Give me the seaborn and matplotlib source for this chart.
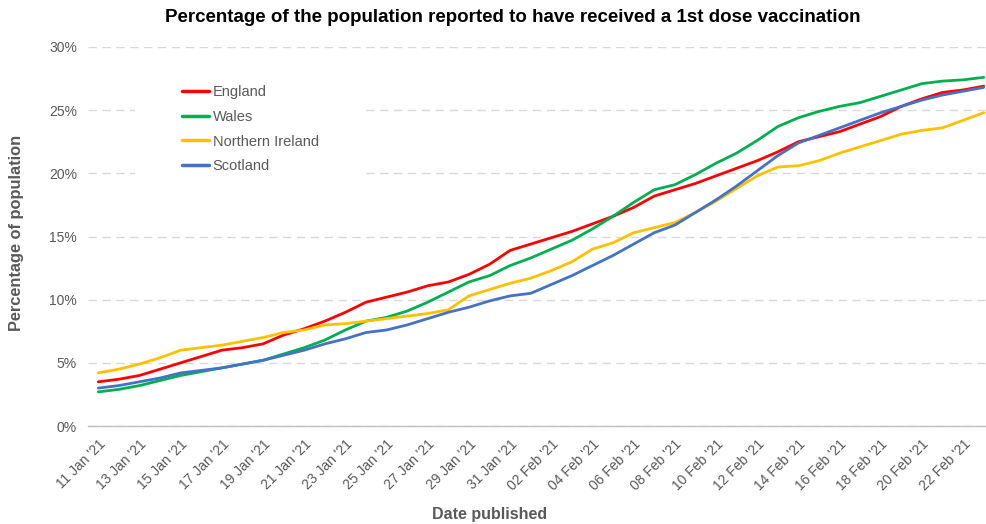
import numpy as np
import pandas as pd
import seaborn as sns
from matplotlib import pyplot as plt
from matplotlib.patches import Rectangle
from matplotlib.ticker import FixedLocator, PercentFormatter

# Dados (percentual da população com 1a dose)
datas = pd.date_range("2021-01-11", "2021-02-23", freq="D")

england = [3.5, 3.7, 4.0, 4.5, 5.0, 5.5, 6.0, 6.2, 6.5, 7.2,
           7.7, 8.3, 9.0, 9.8, 10.2, 10.6, 11.1, 11.4, 12.0, 12.8,
           13.9, 14.4, 14.9, 15.4, 16.0, 16.6, 17.3, 18.2, 18.7, 19.2,
           19.8, 20.4, 21.0, 21.7, 22.5, 22.9, 23.3, 23.9, 24.5, 25.3,
           25.9, 26.4, 26.6, 26.9]
wales = [2.7, 2.9, 3.2, 3.6, 4.0, 4.3, 4.6, 4.9, 5.2, 5.7,
         6.2, 6.8, 7.6, 8.3, 8.6, 9.1, 9.8, 10.6, 11.4, 11.9,
         12.7, 13.3, 14.0, 14.7, 15.6, 16.6, 17.7, 18.7, 19.1, 19.9,
         20.8, 21.6, 22.6, 23.7, 24.4, 24.9, 25.3, 25.6, 26.1, 26.6,
         27.1, 27.3, 27.4, 27.6]
northern_ireland = [4.2, 4.5, 4.9, 5.4, 6.0, 6.2, 6.4, 6.7, 7.0, 7.4,
                    7.6, 8.0, 8.1, 8.3, 8.5, 8.7, 8.9, 9.2, 10.3, 10.8,
                    11.3, 11.7, 12.3, 13.0, 14.0, 14.5, 15.3, 15.7, 16.1, 16.9,
                    17.8, 18.8, 19.8, 20.5, 20.6, 21.0, 21.6, 22.1, 22.6, 23.1,
                    23.4, 23.6, 24.2, 24.8]
scotland = [3.0, 3.2, 3.5, 3.8, 4.2, 4.4, 4.6, 4.9, 5.2, 5.6,
            6.0, 6.5, 6.9, 7.4, 7.6, 8.0, 8.5, 9.0, 9.4, 9.9,
            10.3, 10.5, 11.2, 11.9, 12.7, 13.5, 14.4, 15.3, 15.9, 16.9,
            17.9, 19.0, 20.2, 21.4, 22.4, 23.0, 23.6, 24.2, 24.8, 25.3,
            25.8, 26.2, 26.5, 26.8]

paises = ["England", "Wales", "Northern Ireland", "Scotland"]
cores = ["#FF0000", "#00B050", "#FFC000", "#4472C4"]

dados = pd.DataFrame({"Dia": np.arange(len(datas)),
                      "England": england,
                      "Wales": wales,
                      "Northern Ireland": northern_ireland,
                      "Scotland": scotland})
dados = pd.melt(dados, id_vars=["Dia"], var_name="Pais", value_name="Percentual")

sns.set_style("white")
plt.rcParams["font.family"] = ["Liberation Sans", "DejaVu Sans"]
cinza = "#595959"
W, H = 986, 524

fig = plt.figure(figsize=(W / 100, H / 100), dpi=100)
ax = fig.add_axes([88 / W, 98 / H, 906 / W, 379 / H])

sns.lineplot(data=dados, x="Dia", y="Percentual", hue="Pais", hue_order=paises,
             palette=cores, linewidth=2.0, ax=ax)

ax.set_xlim(-0.5, len(datas) - 0.5)
ax.set_ylim(0, 30)
ax.yaxis.set_major_locator(FixedLocator(np.arange(0, 31, 5)))
ax.yaxis.set_major_formatter(PercentFormatter(decimals=0))
ax.grid(axis="y", color="#D9D9D9", linestyle=(0, (6, 4)), linewidth=1)
ax.set_axisbelow(True)

# rotulos a cada 2 dias, marcas entre categorias
posicoes = np.arange(0, len(datas), 2)
ax.set_xticks(posicoes)
ax.set_xticklabels([datas[i].strftime("%d %b '%y") for i in posicoes],
                   rotation=45, ha="right", rotation_mode="anchor")
ax.set_xticks(np.arange(-0.5, len(datas), 1), minor=True)
ax.tick_params(axis="x", which="major", length=0, pad=8, labelsize=10, labelcolor=cinza)
ax.tick_params(axis="x", which="minor", length=6, direction="inout", color="#BFBFBF", width=1)
ax.tick_params(axis="y", length=0, pad=8, labelsize=10, labelcolor=cinza)

for lado in ["top", "right", "left"]:
    ax.spines[lado].set_visible(False)
ax.spines["bottom"].set_color("#BFBFBF")
ax.spines["bottom"].set_linewidth(1)

ax.set_xlabel("")
ax.set_ylabel("")
fig.text(490 / W, 1 - 515 / H, "Date published", ha="center", va="center",
         fontsize=11.5, fontweight="bold", color=cinza)
fig.text(17 / W, 1 - 233 / H, "Percentage of population", ha="center", va="center",
         rotation=90, fontsize=11.8, fontweight="bold", color=cinza)
fig.text(513 / W, 1 - 18 / H, "Percentage of the population reported to have received a 1st dose vaccination",
         ha="center", va="center", fontsize=13.5, fontweight="bold", color="black")

# fundo branco da legenda (corta as linhas de grade)
fundo = Rectangle((135 / W, 1 - 185 / H), 230 / W, 130 / H, transform=fig.transFigure,
                  facecolor="white", edgecolor="none", zorder=1.5)
ax.add_patch(fundo)

leg = ax.legend(loc="upper left", bbox_to_anchor=(182 / W, 1 - 85 / H),
                bbox_transform=fig.transFigure, frameon=False, fontsize=10.5,
                handlelength=1.85, labelspacing=0.74, borderpad=0, borderaxespad=0,
                handletextpad=0.25)
for texto in leg.get_texts():
    texto.set_color(cinza)
for linha in leg.get_lines():
    linha.set_linewidth(2.5)

fig.savefig("out.png", dpi=100)
